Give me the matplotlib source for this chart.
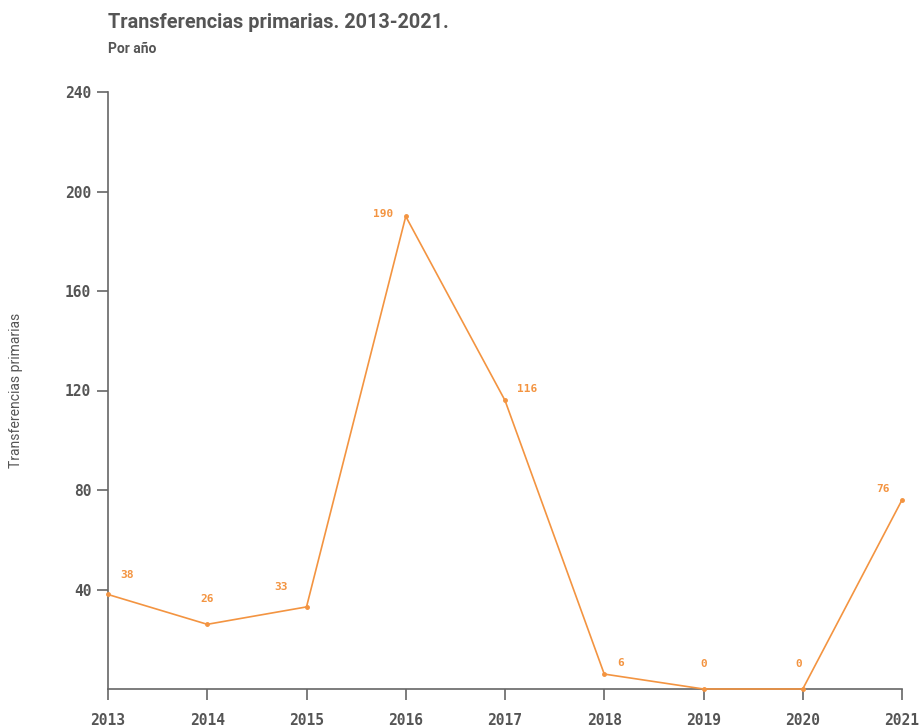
import matplotlib
matplotlib.use("Agg")
import matplotlib.pyplot as plt

years = ["2013", "2014", "2015", "2016", "2017", "2018", "2019", "2020", "2021"]
values = [38, 26, 33, 190, 116, 6, 0, 0, 76]
yticks = [40, 80, 120, 160, 200, 240]

# label offsets in points (style)
offsets = [(14, 14), (0, 18), (-18, 14), (-16, 2), (16, 8), (12, 8), (0, 18), (-3, 18), (-14, 8)]

color = "#F39441"
gray = "#555555"

fig = plt.figure(figsize=(9.21, 7.27), dpi=100)
ax = fig.add_axes([108/921, (727-689)/727, (902-108)/921, (689-92)/727])

x = list(range(len(years)))
ax.plot(x, values, color=color, lw=1.2, marker="o", ms=2.5, clip_on=False, zorder=3)
for xi, v, (dx, dy) in zip(x, values, offsets):
    ax.annotate(str(v), (xi, v), xytext=(dx, dy), textcoords="offset points",
                ha="center", va="center", fontsize=8, fontweight="bold",
                family="DejaVu Sans Mono", color=color)

ax.set_xlim(0, len(years) - 1)
ax.set_ylim(0, 240)
ax.set_xticks(x)
ax.set_xticklabels(years)
ax.set_yticks(yticks)
ax.set_yticklabels([str(t) for t in yticks])
for s in ["top", "right"]:
    ax.spines[s].set_visible(False)
for s in ["left", "bottom"]:
    ax.spines[s].set_color("#666666")
    ax.spines[s].set_linewidth(1.2)
ax.tick_params(axis="both", colors="#666666", width=1.2, length=8, labelcolor=gray, labelsize=10.5)
ax.tick_params(axis="x", pad=9)
ax.tick_params(axis="y", pad=4)
for lab in ax.get_xticklabels() + ax.get_yticklabels():
    lab.set_family("DejaVu Sans Mono")
    lab.set_fontweight("bold")

fig.text(108/921, 1 - 22/727, "Transferencias primarias. 2013-2021.", fontsize=14.3,
         fontweight="bold", color=gray, family="Roboto", va="center", ha="left")
fig.text(108/921, 1 - 49/727, "Por año", fontsize=10, fontweight="bold", color=gray,
         family="Roboto", va="center", ha="left")
fig.text(16/921, 1 - 390/727, "Transferencias primarias", rotation=90, fontsize=10,
         color=gray, family="Roboto", va="center", ha="center")

fig.savefig("out.png", dpi=100)
